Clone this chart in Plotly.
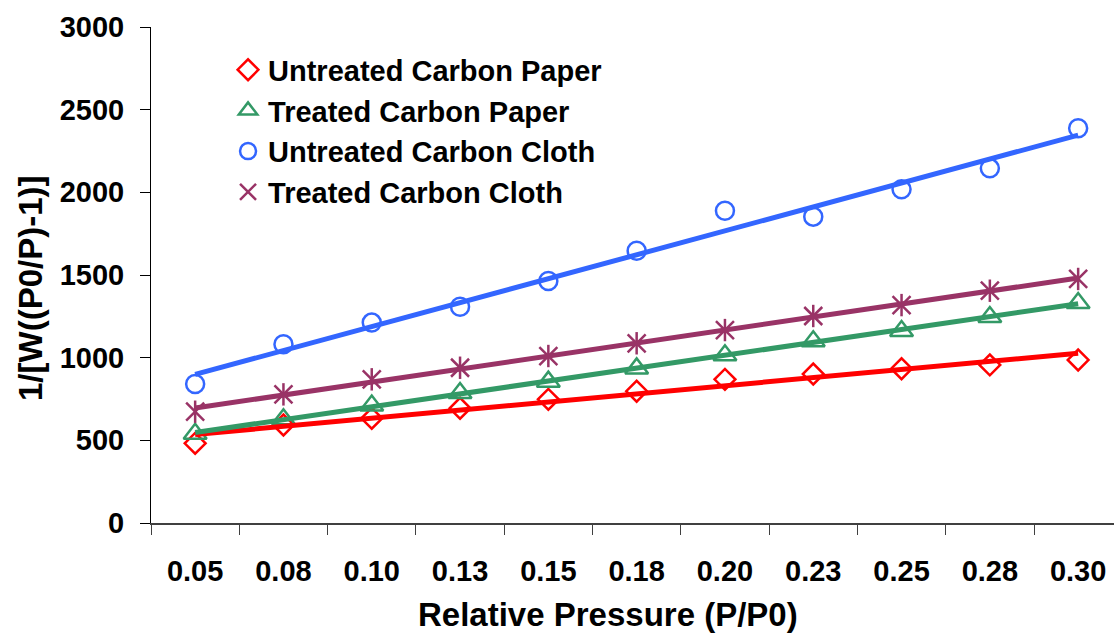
import numpy as np
import plotly.graph_objects as go

# Relative pressure values and their axis labels (two decimals)
pressure = [0.05, 0.075, 0.10, 0.125, 0.15, 0.175, 0.20, 0.225, 0.25, 0.275, 0.30]
tick_labels = ["0.05", "0.08", "0.10", "0.13", "0.15", "0.18", "0.20", "0.23", "0.25", "0.28", "0.30"]

# BET transform 1/[W((P0/P)-1)] for each sample
untreated_paper = [482, 593, 633, 694, 748, 797, 869, 901, 933, 956, 986]
treated_paper = [540, 627, 710, 786, 855, 935, 1014, 1099, 1161, 1246, 1330]
untreated_cloth = [841, 1081, 1212, 1308, 1464, 1647, 1889, 1853, 2018, 2145, 2387]
treated_cloth = [673, 778, 869, 939, 1010, 1087, 1167, 1252, 1318, 1405, 1476]

FONT = "Liberation Sans"

series = [
    ("Untreated Carbon Paper", untreated_paper, "#FF0000", "diamond-open", 16),
    ("Treated Carbon Paper", treated_paper, "#339966", "triangle-up-open", 20),
    ("Untreated Carbon Cloth", untreated_cloth, "#3366FF", "circle-open", 18),
    ("Treated Carbon Cloth", treated_cloth, "#993366", "x-thin-open", 18),
]

fig = go.Figure()

# measured points
for name, vals, color, symbol, size in series:
    fig.add_trace(go.Scatter(
        x=tick_labels, y=vals, mode="markers", name=name, legendgroup=name,
        marker=dict(symbol=symbol, size=size, color=color,
                    line=dict(color=color, width=2.5)),
    ))
    if symbol == "x-thin-open":
        # vertical stroke completing the six-armed star
        fig.add_trace(go.Scatter(
            x=tick_labels, y=vals, mode="markers", legendgroup=name, showlegend=False,
            marker=dict(symbol="line-ns-open", size=16, color=color,
                        line=dict(color=color, width=2.5)),
        ))

# linear least-squares trend lines
for name, vals, color, symbol, size in series:
    slope, intercept = np.polyfit(pressure, vals, 1)
    fit = [slope * p + intercept for p in pressure]
    fig.add_trace(go.Scatter(
        x=tick_labels, y=fit, mode="lines", showlegend=False, legendgroup=name,
        line=dict(color=color, width=5), hoverinfo="skip",
    ))

tick_font = dict(family=FONT, size=29, color="black", weight="bold")
title_font = dict(family=FONT, size=33, color="black", weight="bold")

fig.update_layout(
    width=1114, height=635,
    margin=dict(l=151, r=0, t=27, b=112),
    paper_bgcolor="white", plot_bgcolor="white",
    showlegend=True,
    legend=dict(
        x=0.08, y=0.965, xanchor="left", yanchor="top",
        bgcolor="rgba(0,0,0,0)", borderwidth=0,
        font=dict(family=FONT, size=29, color="black", weight="bold"),
        tracegroupgap=0,
    ),
    xaxis=dict(
        type="category", categoryorder="array", categoryarray=tick_labels,
        range=[-0.5, 10.406], tickson="boundaries",
        showline=True, linecolor="#404040", linewidth=1.5,
        ticks="outside", ticklen=10, tickcolor="#404040", tickwidth=1,
        showgrid=False, zeroline=False, automargin=False,
        tickfont=tick_font, ticklabelstandoff=21,
    ),
    yaxis=dict(
        range=[0, 3000], dtick=500, tick0=0,
        showline=True, linecolor="black", linewidth=1,
        ticks="outside", ticklen=10, tickcolor="black", tickwidth=1,
        showgrid=False, zeroline=False, automargin=False,
        tickfont=tick_font, ticklabelstandoff=10,
    ),
    annotations=[
        dict(text="Relative Pressure (P/P0)", xref="paper", yref="paper",
             x=(608 - 151) / 963, y=-(614 - 523) / 496, xanchor="center", yanchor="middle",
             showarrow=False, font=title_font),
        dict(text="1/[W((P0/P)-1)]", xref="paper", yref="paper", textangle=-90,
             x=-(151 - 31) / 963, y=(523 - 288) / 496, xanchor="center", yanchor="middle",
             showarrow=False, font=title_font),
    ],
)

fig.write_html("out.html")
